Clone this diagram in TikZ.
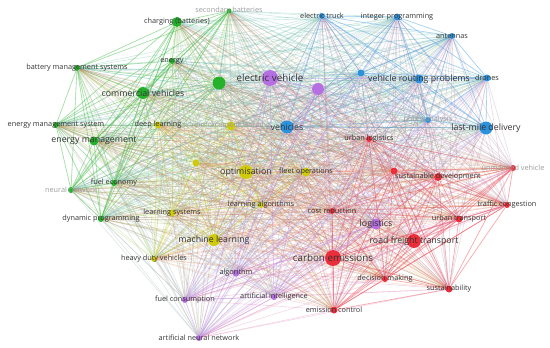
\documentclass[tikz,border=0pt]{standalone}
\usepackage{fontspec}
\setmainfont{Open Sans}
\usetikzlibrary{backgrounds}
\definecolor{kwgreen}{HTML}{25B12A}
\definecolor{kwyellow}{HTML}{CFCA0C}
\definecolor{kwblue}{HTML}{2D92DE}
\definecolor{kwred}{HTML}{EC2D3A}
\definecolor{kwpurple}{HTML}{B56FE2}
\definecolor{labeltext}{HTML}{333333}
\definecolor{labelfaint}{HTML}{9C9C9C}

% keyword groups, one per cluster
\def\greenset{secbat,charging,energy,bms,commveh,greenhub,ems,enman,fueleco,neuralnet,dynprog}
\def\yellowset{deeplearn,reinforce,yellowdot,optim,fleet,learnalg,learnsys,machlearn,heavyduty}
\def\blueset{etruck,intprog,antennas,bluedot,vrp,drones,vehicles,analysis,lastmile}
\def\redset{urblog,reddot,sustdev,unmanned,traffic,costred,urbtrans,roadfreight,carbon,decision,sustain,emission}
\def\purpleset{ev,purpledot,logistics,algorithm,ai,fuelcons,ann}
\edef\allset{\greenset,\yellowset,\blueset,\redset,\purpleset}
\newcommand\linksfrom[2]{%
  \foreach \a in #1 {\foreach \b in \allset {\ifx\a\b\else\draw[link, #2!80!white] (\a) -- (\b);\fi}}%
  \foreach \a in #1 {\foreach \b in #1 {\ifx\a\b\else\draw[link, #2!85!white, opacity=0.18] (\a) -- (\b);\fi}}}

\begin{document}
\begin{tikzpicture}[x=1pt, y=-1pt,
    kw/.style={circle, draw=none, fill=#1, inner sep=0pt},
    sz/.style={minimum size=#1pt},
    lab/.style={font=\fontsize{7.3}{8}\selectfont, text=labeltext, inner sep=0pt},
    labm/.style={font=\fontsize{8.8}{9}\selectfont, text=labeltext, inner sep=0pt},
    labl/.style={font=\fontsize{9.8}{10}\selectfont, text=labeltext, inner sep=0pt},
    labf/.style={font=\fontsize{7.3}{8}\selectfont, text=labelfaint, inner sep=0pt},
    link/.style={line width=0.6pt, opacity=0.15},
]
    \useasboundingbox (0,0) rectangle (550,348);

    % green cluster
    \node[kw=kwgreen, sz=5, label={[labf]center:secondary batteries}] (secbat) at (229,11) {};
    \node[kw=kwgreen, sz=10, label={[lab]center:charging (batteries)}] (charging) at (177,22) {};
    \node[kw=kwgreen, sz=6, label={[lab]center:energy}] (energy) at (172,61) {};
    \node[kw=kwgreen, sz=6, label={[lab]center:battery management systems}] (bms) at (77,68) {};
    \node[kw=kwgreen, sz=12, label={[labm]center:commercial vehicles}] (commveh) at (143,93) {};
    \node[kw=kwgreen, sz=13] (greenhub) at (219,83) {};
    \node[kw=kwgreen, sz=6, label={[lab]center:energy management system}] (ems) at (56,125) {};
    \node[kw=kwgreen, sz=9, label={[labm]center:energy management}] (enman) at (94,141) {};
    \node[kw=kwgreen, sz=6, label={[lab]center:fuel economy}] (fueleco) at (114,183) {};
    \node[kw=kwgreen, sz=6, label={[labf]center:neural network}] (neuralnet) at (71,190) {};
    \node[kw=kwgreen, sz=6, label={[lab]center:dynamic programming}] (dynprog) at (101,219) {};

    % yellow cluster
    \node[kw=kwyellow, sz=7, label={[lab]center:deep learning}] (deeplearn) at (158,125) {};
    \node[kw=kwyellow, sz=9, label={[labf]center:reinforcement learning}] (reinforce) at (231,126) {};
    \node[kw=kwyellow, sz=7] (yellowdot) at (196,163) {};
    \node[kw=kwyellow, sz=14, label={[labm]center:optimisation}] (optim) at (246,172) {};
    \node[kw=kwyellow, sz=9, label={[lab]center:fleet operations}] (fleet) at (306,172) {};
    \node[kw=kwyellow, sz=6, label={[lab]center:learning algorithms}] (learnalg) at (261,205) {};
    \node[kw=kwyellow, sz=7, label={[lab]center:learning systems}] (learnsys) at (172,213) {};
    \node[kw=kwyellow, sz=12, label={[labm]center:machine learning}] (machlearn) at (214,240) {};
    \node[kw=kwyellow, sz=6, label={[lab]center:heavy duty vehicles}] (heavyduty) at (154,259) {};

    % blue cluster
    \node[kw=kwblue, sz=6, label={[lab]center:electric truck}] (etruck) at (322,16) {};
    \node[kw=kwblue, sz=7, label={[lab]center:integer programming}] (intprog) at (397,17) {};
    \node[kw=kwblue, sz=6, label={[lab]center:antennas}] (antennas) at (452,36) {};
    \node[kw=kwblue, sz=7] (bluedot) at (361,73) {};
    \node[kw=kwblue, sz=9, label={[labm]center:vehicle routing problems}] (vrp) at (419,79) {};
    \node[kw=kwblue, sz=7, label={[lab]center:drones}] (drones) at (487,78) {};
    \node[kw=kwblue, sz=13, label={[labm]center:vehicles}] (vehicles) at (287,127) {};
    \node[kw=kwblue, sz=6, label={[labf]center:policy analysis}] (analysis) at (428,120) {};
    \node[kw=kwblue, sz=13, label={[labm]center:last-mile delivery}] (lastmile) at (486,128) {};

    % red cluster
    \node[kw=kwred, sz=6, label={[lab]center:urban logistics}] (urblog) at (369,139) {};
    \node[kw=kwred, sz=7] (reddot) at (394,171) {};
    \node[kw=kwred, sz=8, label={[lab]center:sustainable development}] (sustdev) at (438,177) {};
    \node[kw=kwred, sz=6, label={[labf]center:unmanned vehicle}] (unmanned) at (513,168) {};
    \node[kw=kwred, sz=6, label={[lab]center:traffic congestion}] (traffic) at (507,205) {};
    \node[kw=kwred, sz=6, label={[lab]center:cost reduction}] (costred) at (332,211) {};
    \node[kw=kwred, sz=7, label={[lab]center:urban transport}] (urbtrans) at (459,219) {};
    \node[kw=kwred, sz=14, label={[labm]center:road freight transport}] (roadfreight) at (414,241) {};
    \node[kw=kwred, sz=16, label={[labl]center:carbon emissions}] (carbon) at (333,258) {};
    \node[kw=kwred, sz=6, label={[lab]center:decision making}] (decision) at (385,279) {};
    \node[kw=kwred, sz=7, label={[lab]center:sustainability}] (sustain) at (449,289) {};
    \node[kw=kwred, sz=7, label={[lab]center:emission control}] (emission) at (334,310) {};

    % purple cluster
    \node[kw=kwpurple, sz=16, label={[labl]center:electric vehicle}] (ev) at (270,78) {};
    \node[kw=kwpurple, sz=12] (purpledot) at (318,89) {};
    \node[kw=kwpurple, sz=11, label={[labm]center:logistics}] (logistics) at (376,224) {};
    \node[kw=kwpurple, sz=7, label={[lab]center:algorithm}] (algorithm) at (236,273) {};
    \node[kw=kwpurple, sz=6, label={[lab]center:artificial intelligence}] (ai) at (274,297) {};
    \node[kw=kwpurple, sz=6, label={[lab]center:fuel consumption}] (fuelcons) at (185,300) {};
    \node[kw=kwpurple, sz=6, label={[lab]center:artificial neural network}] (ann) at (199,338) {};

    % co-occurrence links
    \begin{scope}[on background layer]
        \linksfrom{\greenset}{kwgreen}
        \linksfrom{\yellowset}{kwyellow}
        \linksfrom{\blueset}{kwblue}
        \linksfrom{\redset}{kwred}
        \linksfrom{\purpleset}{kwpurple}
    \end{scope}
\end{tikzpicture}
\end{document}
